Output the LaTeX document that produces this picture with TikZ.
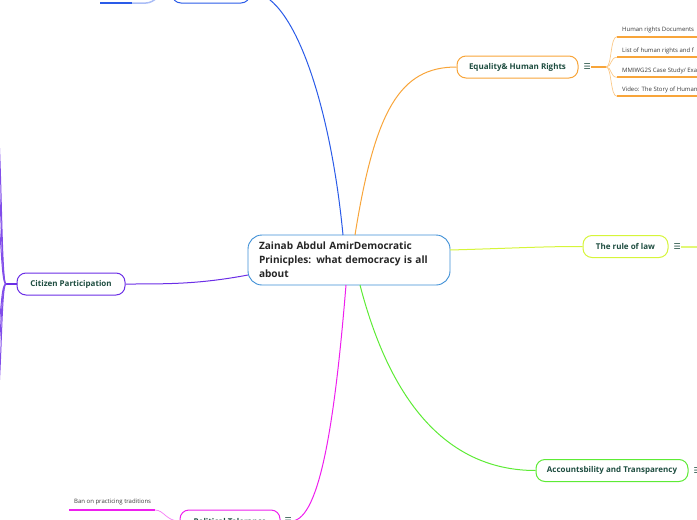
\documentclass[tikz,border=0pt]{standalone}
\usepackage{fontspec}
\setmainfont{Open Sans}
\newfontfamily\symfont{DejaVu Sans}
\usetikzlibrary{positioning,calc}
\definecolor{cBlue}{HTML}{2A5BE8}
\definecolor{cOrange}{HTML}{F8A53A}
\definecolor{cLime}{HTML}{D6F53A}
\definecolor{cGreen}{HTML}{5DEB35}
\definecolor{cPurple}{HTML}{6B2EE6}
\definecolor{cMagenta}{HTML}{EE1FEE}
\definecolor{cCore}{HTML}{3D8FD6}
\definecolor{txtTeal}{HTML}{1E4D40}
\definecolor{txtLeaf}{HTML}{3A3A3A}
\newcommand{\menuicon}{\symfont ☰}

\begin{document}
\begin{tikzpicture}[x=1pt, y=-1pt,
  core/.style ={draw=cCore, line width=0.9pt, rounded corners=14pt, fill=white,
                text=black!85, align=left, text width=180pt, inner xsep=11pt,
                minimum width=202pt, minimum height=50pt,
                font=\fontsize{10.1}{13.8}\selectfont\bfseries},
  topic/.style={draw, line width=1pt, rounded corners=9pt, fill=white,
                text=txtTeal, minimum height=22pt, inner xsep=0pt,
                font=\fontsize{8}{9}\selectfont\bfseries},
  menu/.style ={text=txtTeal, inner sep=0pt, font=\fontsize{8}{8}\selectfont},
  leaf/.style ={anchor=west, text=txtLeaf, inner sep=0pt,
                font=\fontsize{6}{6}\selectfont},
  ln/.style   ={line width=1pt},
  uln/.style  ={line width=2pt},
  twig/.style ={line width=0.7pt}]

\useasboundingbox (0,0) rectangle (697,520);
\clip (0,0) rectangle (697,520);

% main topics
\node[core] (core) at (349,260) {Zainab Abdul AmirDemocratic\\
  Prinicples: what democracy is all\\about};
\node[topic, draw=cOrange, minimum width=121pt] (equal) at (517.5,67) {Equality\& Human Rights};
\node[topic, draw=cLime, minimum width=85pt] (law) at (625.5,246.5) {The rule of law};
\node[topic, draw=cGreen, minimum width=152pt] (acc) at (612,470.5) {Accountsbility and Transparency};
\node[topic, draw=cPurple, minimum width=108pt] (cit) at (71,284) {Citizen Participation};
\node[topic, draw=cMagenta, minimum width=100pt] (tol) at (230,521) {Political Tolerance};
\node[topic, draw=cBlue, minimum width=78pt] (top) at (211,-8) {};

\node[menu, right=5pt of equal] (equalM) {\menuicon};
\node[menu, right=5pt of law] (lawM) {\menuicon};
\node[menu, right=5pt of acc] (accM) {\menuicon};
\node[menu, right=4pt of tol] (tolM) {\menuicon};

% links from the centre
\draw[ln, cBlue] (343,235) .. controls (330,100) and (292,-8) .. (top.east);
\draw[ln, cOrange] (355,235) .. controls (375,110) and (400,67) .. (equal.west);
\draw[ln, cLime] (450,250) .. controls (520,248) and (540,246.5) .. (law.west);
\draw[ln, cGreen] (360,285) .. controls (395,420) and (460,470.5) .. (acc.west);
\draw[ln, cMagenta] (346,285) .. controls (335,420) and (320,519) .. (tolM.east);
\draw[ln, cPurple] (248,275) .. controls (200,284) and (170,284) .. (cit.east);

% Equality & Human Rights children
\coordinate (eqfork) at ($(equalM.east)+(15,0)$);
\draw[uln, cOrange] (equalM.east) -- (eqfork);
\foreach \y/\txt [count=\i] in {36.7/{Human rights Documents},
    57.3/{List of human rights and f},
    77.3/{MMIWG2S Case Study/ Exa},
    96.3/{Video: The Story of Human}} {
  \node[leaf] (hr\i) at (622,\y-6.5) {\txt};
  \coordinate (hru\i) at (617,\y);
  \draw[twig, cOrange!60] (eqfork) .. controls (612,67) and (610,\y) .. (hru\i);
  \draw[uln, cOrange] (hru\i) -- ++(85,0);
}

% rule of law stub
\coordinate (lawR) at (700,246.5);
\draw[uln, cLime!70] (lawM.east) -- (lawR);

% Citizen Participation children
\coordinate (citfork) at (6,284);
\draw[uln, cPurple] (cit.west) -- (citfork);
\foreach \ty/\cy in {100/140,150/190,195/235,350/310,375/335,420/380}
  \draw[line width=1pt, cPurple!85] (citfork) .. controls (1,284) and (2,\cy) .. (-4,\ty);

% Political Tolerance child
\node[leaf] (ban) at (74,502) {Ban on practicing traditions};
\coordinate (banL) at (69,510);
\coordinate (banR) at (155,510);
\draw[uln, cMagenta] (banL) -- (banR);
\draw[twig, cMagenta!60] (tol.west) .. controls (166,521) and (164,510) .. (banR);

% top node child
\coordinate (topL) at (100,3);
\coordinate (topM) at (132,3);
\draw[uln, cBlue] (topL) -- (topM);
\draw[line width=1.5pt, cBlue!40] (topM) -- (146,3) .. controls (155,3) and (160,-8) .. (top.west);
\end{tikzpicture}
\end{document}
